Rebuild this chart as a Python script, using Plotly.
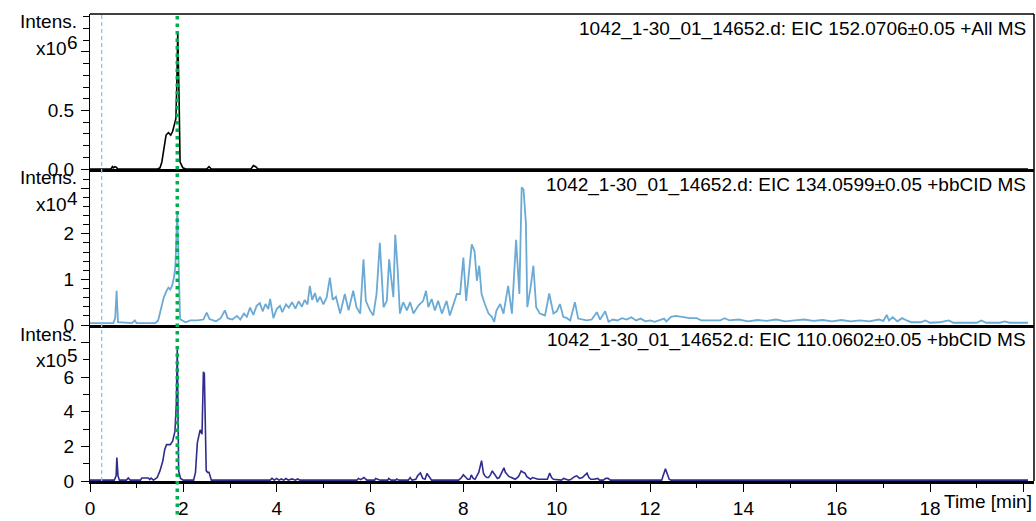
import plotly.graph_objects as go

# ---------------- data ----------------
# Panel 1: EIC 152.0706 (+All MS), intensity in units of 1e6
t_eic152 = [0.0, 0.45, 0.48, 0.5, 0.53, 0.56, 0.6, 1.45, 1.5, 1.54, 1.59, 1.63, 1.68, 1.73,
            1.77, 1.8, 1.84, 1.86, 1.88, 1.91, 1.93, 1.99, 2.05, 2.5, 2.55, 2.6, 3.45, 3.5,
            3.55, 3.6, 20.1]
i_eic152 = [0, 0, 0.02, 0.01, 0.02, 0.015, 0, 0, 0.01, 0.06, 0.19, 0.29, 0.31, 0.29,
            0.32, 0.37, 0.43, 0.71, 1.17, 0.57, 0.06, 0.01, 0, 0, 0.02, 0, 0, 0.03,
            0.02, 0, 0]

# Panel 2: EIC 134.0599 (+bbCID MS), intensity in units of 1e4
t_eic134 = [0.0, 0.5, 0.54, 0.57, 0.6, 0.9, 0.96, 1.0, 1.4, 1.46, 1.52, 1.58, 1.64, 1.68,
            1.72, 1.76, 1.8, 1.83, 1.87, 1.9, 1.93, 1.98, 2.05, 2.15, 2.3, 2.43, 2.5, 2.56,
            2.7, 2.8, 2.89, 2.95, 3.05, 3.15, 3.22, 3.3, 3.36, 3.43, 3.5, 3.57, 3.64, 3.7,
            3.76, 3.82, 3.86, 3.93, 4.0, 4.07, 4.12, 4.2, 4.26, 4.33, 4.4, 4.47, 4.54, 4.6,
            4.66, 4.71, 4.76, 4.82, 4.87, 4.93, 5.0, 5.07, 5.14, 5.2, 5.27, 5.33, 5.36,
            5.46, 5.54, 5.64, 5.71, 5.79, 5.86, 5.91, 6.0, 6.07, 6.14, 6.21, 6.29, 6.36,
            6.41, 6.46, 6.5, 6.54, 6.59, 6.64, 6.71, 6.79, 6.86, 6.93, 7.04, 7.14, 7.2,
            7.25, 7.32, 7.39, 7.46, 7.54, 7.64, 7.71, 7.79, 7.86, 7.93, 8.0, 8.06, 8.11,
            8.18, 8.24, 8.29, 8.34, 8.39, 8.46, 8.54, 8.61, 8.66, 8.71, 8.79, 8.86, 8.96,
            9.04, 9.13, 9.2, 9.25, 9.29, 9.34, 9.37, 9.44, 9.5, 9.56, 9.64, 9.75, 9.84,
            9.93, 10.0, 10.07, 10.14, 10.22, 10.29, 10.39, 10.46, 10.55, 10.64, 10.75,
            10.86, 10.93, 11.0, 11.04, 11.11, 11.2, 11.3, 11.4, 11.5, 11.6, 11.7, 11.8,
            11.9, 12.0, 12.1, 12.2, 12.3, 12.35, 12.45, 12.55, 12.7, 12.85, 13.0, 13.1,
            13.3, 13.5, 13.6, 13.7, 13.9, 14.1, 14.3, 14.5, 14.7, 14.9, 15.1, 15.3, 15.5,
            15.7, 15.9, 16.1, 16.3, 16.5, 16.7, 16.9, 17.0, 17.07, 17.12, 17.2, 17.3, 17.4,
            17.5, 17.6, 17.8, 17.9, 18.0, 18.2, 18.4, 18.5, 18.8, 19.0, 19.1, 19.2, 19.5,
            19.6, 19.7, 20.1]
i_eic134 = [0.04, 0.04, 0.15, 0.75, 0.06, 0.04, 0.1, 0.04, 0.04, 0.1, 0.35, 0.6, 0.75, 0.82,
            0.78, 0.86, 1.05, 1.3, 2.5, 1.2, 0.13, 0.1, 0.06, 0.1, 0.1, 0.12, 0.27, 0.13,
            0.08, 0.15, 0.32, 0.15, 0.12, 0.2, 0.12, 0.25, 0.18, 0.38, 0.22, 0.42, 0.48, 0.3,
            0.46, 0.35, 0.57, 0.15, 0.35, 0.42, 0.28, 0.45, 0.38, 0.5, 0.36, 0.52, 0.4, 0.55,
            0.45, 0.86, 0.55, 0.7, 0.5, 0.62, 0.45, 0.6, 1.04, 0.55, 0.62, 0.38, 0.25,
            0.68, 0.32, 0.75, 0.39, 0.25, 1.44, 0.53, 0.32, 0.21, 0.68, 1.8, 0.39, 0.53,
            1.44, 0.97, 0.61, 1.98, 1.26, 0.25, 0.5, 0.32, 0.5, 0.25, 0.43, 0.53, 0.75,
            0.39, 0.57, 0.32, 0.53, 0.25, 0.53, 0.21, 0.45, 0.68, 0.68, 1.48, 0.53, 1.04,
            1.77, 1.62, 0.97, 1.3, 0.68, 0.46, 0.25, 0.18, 0.07, 0.32, 0.46, 0.25, 0.86,
            0.25, 1.87, 0.68, 3.02, 2.97, 2.23, 0.39, 0.82, 1.3, 0.39, 0.25, 0.21, 0.69,
            0.25, 0.3, 0.46, 0.18, 0.15, 0.1, 0.5, 0.14, 0.12, 0.1, 0.12,
            0.28, 0.12, 0.25, 0.3, 0.07, 0.12, 0.1, 0.15, 0.12, 0.17, 0.1, 0.14,
            0.08, 0.1, 0.07, 0.1, 0.14, 0.08, 0.18, 0.2, 0.17, 0.15, 0.15, 0.1,
            0.1, 0.1, 0.15, 0.1, 0.12, 0.08, 0.11, 0.09, 0.12, 0.08, 0.1, 0.12, 0.09,
            0.11, 0.08, 0.11, 0.08, 0.1, 0.08, 0.12, 0.09, 0.22, 0.1, 0.17, 0.08, 0.15,
            0.1, 0.06, 0.06, 0.1, 0.05, 0.06, 0.1, 0.05, 0.05, 0.05, 0.1, 0.05, 0.05,
            0.08, 0.05, 0.05]

# Panel 3: EIC 110.0602 (+bbCID MS), intensity in units of 1e5
t_eic110 = [0.0, 0.52, 0.56, 0.575, 0.6, 0.63, 0.78, 0.82, 0.86, 1.08, 1.11, 1.25, 1.28, 1.31,
            1.36, 1.44, 1.5, 1.56, 1.6, 1.64, 1.72, 1.77, 1.82, 1.85, 1.87, 1.9, 1.94, 2.0,
            2.22, 2.26, 2.3, 2.33, 2.36, 2.4, 2.43, 2.45, 2.47, 2.49, 2.52, 2.55, 2.6, 3.86,
            3.9, 3.95, 4.0, 4.05, 4.1, 4.15, 4.2, 4.25, 4.33, 4.4, 4.45, 4.5, 5.72, 5.75,
            5.8, 5.87, 5.93, 6.1, 6.12, 6.17, 6.22, 6.38, 6.4, 6.45, 6.55, 6.57, 6.62, 6.82,
            6.86, 6.9, 6.98, 7.02, 7.08, 7.13, 7.18, 7.22, 7.27, 7.32, 7.9, 7.96, 8.0, 8.05,
            8.09, 8.14, 8.17, 8.21, 8.25, 8.3, 8.33, 8.39, 8.43, 8.46, 8.5, 8.54, 8.58, 8.62,
            8.66, 8.69, 8.73, 8.77, 8.82, 8.87, 8.9, 8.93, 8.98, 9.03, 9.07, 9.11, 9.18,
            9.24, 9.28, 9.32, 9.36, 9.4, 9.44, 9.48, 9.54, 9.6, 9.8, 9.85, 9.89, 9.93, 10.1,
            10.15, 10.2, 10.25, 10.3, 10.38, 10.43, 10.49, 10.55, 10.6, 10.65, 10.69, 10.73,
            10.8, 10.88, 10.92, 11.0, 11.05, 11.1, 11.15, 12.25, 12.28, 12.33, 12.37, 12.41,
            12.45, 20.1]
i_eic110 = [0.05, 0.05, 0.3, 1.35, 0.3, 0.05, 0.05, 0.17, 0.05, 0.05, 0.17, 0.17, 0.08, 0.17,
            0.05, 0.2, 0.6, 1.15, 1.8, 2.1, 2.1, 2.3, 2.86, 4.5, 7.6, 0.58, 0.15, 0.05,
            0.05, 0.5, 2.2, 2.55, 2.95, 2.7, 6.3, 6.2, 2.3, 0.6, 0.5, 0.5, 0.05, 0.05,
            0.15, 0.05, 0.15, 0.05, 0.12, 0.05, 0.14, 0.05, 0.12, 0.05, 0.12, 0.05, 0.05, 0.15,
            0.08, 0.2, 0.05, 0.05, 0.15, 0.1, 0.05, 0.05, 0.15, 0.05, 0.05, 0.12, 0.05, 0.05,
            0.2, 0.05, 0.1, 0.3, 0.47, 0.15, 0.1, 0.43, 0.25, 0.05, 0.05, 0.2, 0.36, 0.2,
            0.1, 0.1, 0.35, 0.15, 0.1, 0.35, 0.5, 1.18, 0.45, 0.3, 0.2, 0.2, 0.35, 0.58,
            0.4, 0.3, 0.15, 0.2, 0.45, 0.76, 0.5, 0.4, 0.25, 0.2, 0.15, 0.1, 0.25,
            0.58, 0.5, 0.45, 0.25, 0.15, 0.1, 0.2, 0.15, 0.1, 0.1, 0.46, 0.2, 0.1, 0.05,
            0.15, 0.1, 0.05, 0.08, 0.25, 0.3, 0.15, 0.2, 0.3, 0.45, 0.2, 0.1,
            0.1, 0.15, 0.05, 0.05, 0.15, 0.15, 0.05, 0.05, 0.3, 0.7, 0.4, 0.1,
            0.05, 0.05]

panel_titles = [
    "1042_1-30_01_14652.d: EIC 152.0706±0.05 +All MS",
    "1042_1-30_01_14652.d: EIC 134.0599±0.05 +bbCID MS",
    "1042_1-30_01_14652.d: EIC 110.0602±0.05 +bbCID MS",
]
scale_exponents = ["6", "4", "5"]
x_tick_vals = [0, 2, 4, 6, 8, 10, 12, 14, 16, 18, 20]
x_tick_text = ["0", "2", "4", "6", "8", "10", "12", "14", "16", "18", ""]
marker_line_time = 1.87   # green dotted
ref_line_time = 0.25      # light blue dashed

# ---------------- geometry helpers ----------------
W, H = 1036, 521
ML, MR, MT, MB = 90, 2, 14, 34
PW, PH = W - ML - MR, H - MT - MB


def ypap(p):
    return (H - MB - p) / PH


def xpap(p):
    return (p - ML) / PW


FONT = "Arial, Liberation Sans, sans-serif"
fig = go.Figure()

fig.add_trace(go.Scatter(x=t_eic152, y=i_eic152, mode="lines", xaxis="x", yaxis="y",
                         line=dict(color="#000000", width=1.6), showlegend=False))
fig.add_trace(go.Scatter(x=t_eic134, y=i_eic134, mode="lines", xaxis="x2", yaxis="y2",
                         line=dict(color="#6aaad4", width=1.8), showlegend=False))
fig.add_trace(go.Scatter(x=t_eic110, y=i_eic110, mode="lines", xaxis="x3", yaxis="y3",
                         line=dict(color="#302c8e", width=1.6), showlegend=False))

xr = [0, PW / 46.67]
doms = [[ypap(171), 1.0], [ypap(329), ypap(171)], [0.0, ypap(330)]]

common_x = dict(range=xr, showgrid=False, zeroline=False, showline=True,
                linecolor="black", linewidth=3, fixedrange=True)
fig.update_layout(
    xaxis=dict(**common_x, anchor="y", showticklabels=False, ticks=""),
    xaxis2=dict(**common_x, anchor="y2", showticklabels=False, ticks=""),
    xaxis3=dict(**common_x, anchor="y3", ticks="outside", ticklen=8, tickwidth=1,
                tickcolor="black", tickmode="array", tickvals=x_tick_vals,
                ticktext=x_tick_text, tickfont=dict(family=FONT, size=19, color="black"),
                minor=dict(tickmode="linear", tick0=1, dtick=2, ticks="outside",
                           ticklen=4, tickcolor="black", tickwidth=1)),
)

common_y = dict(showgrid=False, zeroline=False, showline=True, linecolor="black",
                linewidth=1, ticks="outside", ticklen=8, tickwidth=1, tickcolor="black",
                tickmode="array", tickfont=dict(family=FONT, size=19, color="black"),
                ticklabelstandoff=3, fixedrange=True)
fig.update_layout(
    yaxis=dict(**common_y, domain=doms[0], anchor="x", range=[0, 1.324],
               tickvals=[0, 0.5, 1.0], ticktext=["0.0", "0.5", ""],
               minor=dict(tickmode="linear", tick0=0, dtick=0.1, ticks="outside",
                          ticklen=6, tickcolor="black")),
    yaxis2=dict(**common_y, domain=doms[1], anchor="x2", range=[0, 3.42],
                tickvals=[0, 1, 2, 3], ticktext=["0", "1", "2", ""],
                minor=dict(tickmode="linear", tick0=0, dtick=0.2, ticks="outside",
                           ticklen=6, tickcolor="black")),
    yaxis3=dict(**common_y, domain=doms[2], anchor="x3", range=[0, 8.95],
                tickvals=[0, 2, 4, 6, 8], ticktext=["0", "2", "4", "6", ""],
                minor=dict(tickmode="linear", tick0=0, dtick=1, ticks="outside",
                           ticklen=6, tickcolor="black")),
)

shapes = []
# outer border (top + right)
shapes.append(dict(type="line", xref="paper", yref="paper", x0=0, x1=1, y0=1, y1=1,
                   line=dict(color="black", width=1.5)))
shapes.append(dict(type="line", xref="paper", yref="paper", x0=1, x1=1, y0=0, y1=1,
                   line=dict(color="black", width=1.5)))
# light-blue dashed reference line
xb = ref_line_time / xr[1]
shapes.append(dict(type="line", xref="paper", yref="paper", x0=xb, x1=xb, y0=0, y1=1,
                   line=dict(color="#8cc3f2", width=1.3, dash="4px,3px")))
# green dotted cursor line
xg = marker_line_time / xr[1]
shapes.append(dict(type="line", xref="paper", yref="paper", x0=xg, x1=xg, y0=ypap(521), y1=1,
                   line=dict(color="#00b050", width=3.5, dash="3.5px,4px")))

ann = []
title_y = [29, 187, 344]
intens_y = [22, 180, 339]
x10_y = [49, 207, 365]
exp_y = [43, 201, 360]
for k in range(3):
    ann.append(dict(text=panel_titles[k], xref="paper", yref="paper", x=xpap(1028),
                    y=ypap(title_y[k]), xanchor="right", yanchor="middle", showarrow=False,
                    font=dict(family=FONT, size=19, color="black")))
    ann.append(dict(text="Intens.", xref="paper", yref="paper", x=xpap(79),
                    y=ypap(intens_y[k]), xanchor="right", yanchor="middle", showarrow=False,
                    font=dict(family=FONT, size=19, color="black")))
    ann.append(dict(text="x10", xref="paper", yref="paper", x=xpap(69),
                    y=ypap(x10_y[k]), xanchor="right", yanchor="middle", showarrow=False,
                    font=dict(family=FONT, size=19, color="black")))
    ann.append(dict(text=scale_exponents[k], xref="paper", yref="paper", x=xpap(80),
                    y=ypap(exp_y[k]), xanchor="right", yanchor="middle", showarrow=False,
                    font=dict(family=FONT, size=19, color="black")))
ann.append(dict(text="Time [min]", xref="paper", yref="paper", x=xpap(1034), y=ypap(508),
                xanchor="right", yanchor="middle", showarrow=False,
                font=dict(family=FONT, size=19, color="black")))

fig.update_layout(
    width=W, height=H, margin=dict(l=ML, r=MR, t=MT, b=MB, pad=0),
    paper_bgcolor="white", plot_bgcolor="white",
    shapes=shapes, annotations=ann, showlegend=False,
)

fig.write_html("out.html", config={"displayModeBar": False})
